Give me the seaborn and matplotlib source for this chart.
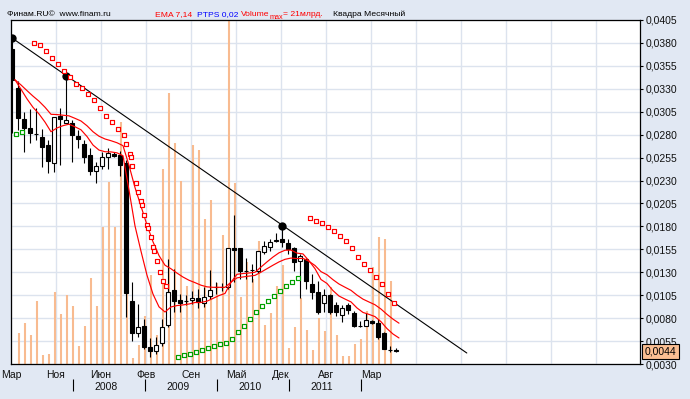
import numpy as np
import matplotlib
matplotlib.use("Agg")
import matplotlib.pyplot as plt
import matplotlib.transforms as mtransforms
from matplotlib.ticker import FuncFormatter
import seaborn as sns

# ---------------- data (monthly candles, Mar 2007 .. Jul 2012) ----------------
open_ = [0.03735, 0.03311, 0.02974, 0.02876, 0.02811, 0.02778, 0.02691, 0.02496, 0.03007, 0.02930,
         0.02930, 0.02789, 0.02702, 0.02583, 0.02409, 0.02463, 0.02561, 0.02594, 0.02583, 0.02496,
         0.00985, 0.00637, 0.00713, 0.00485, 0.00441, 0.00528, 0.00724, 0.01104, 0.00996, 0.00985,
         0.00996, 0.01017, 0.00963, 0.01039, 0.01137, 0.01137, 0.01137, 0.01561, 0.01561, 0.01311,
         0.01322, 0.01311, 0.01517, 0.01572, 0.01637, 0.01659, 0.01615, 0.01561, 0.01420, 0.01441,
         0.01170, 0.01083, 0.00963, 0.01050, 0.00941, 0.00833, 0.00941, 0.00854, 0.00713, 0.00713,
         0.00767, 0.00746, 0.00637, 0.00452, 0.00452]
high = [0.03854, 0.03387, 0.03050, 0.03083, 0.03093, 0.02865, 0.02746, 0.02996, 0.03093, 0.03441,
        0.02963, 0.02854, 0.02746, 0.02659, 0.02507, 0.02615, 0.02659, 0.02615, 0.02626, 0.02528,
        0.01191, 0.00952, 0.00789, 0.00583, 0.00594, 0.00789, 0.01441, 0.01333, 0.01061, 0.01050,
        0.01094, 0.01115, 0.01137, 0.01322, 0.01191, 0.01180, 0.01561, 0.01920, 0.01561, 0.01452,
        0.01387, 0.01528, 0.01637, 0.01659, 0.01724, 0.01800, 0.01659, 0.01572, 0.01496, 0.01452,
        0.01278, 0.01202, 0.01115, 0.01061, 0.00974, 0.00941, 0.00963, 0.00876, 0.00767, 0.00854,
        0.00778, 0.00789, 0.00648, 0.00496, 0.00474]
low = [0.02822, 0.02854, 0.02615, 0.02713, 0.02746, 0.02452, 0.02387, 0.02398, 0.02474, 0.02930,
       0.02507, 0.02659, 0.02496, 0.02365, 0.02278, 0.02430, 0.02430, 0.02561, 0.02344, 0.00811,
       0.00550, 0.00594, 0.00463, 0.00376, 0.00409, 0.00496, 0.00702, 0.00865, 0.00865, 0.00941,
       0.00952, 0.00909, 0.00920, 0.01007, 0.01061, 0.01094, 0.01115, 0.01191, 0.01224, 0.01224,
       0.01191, 0.01289, 0.01496, 0.01528, 0.01626, 0.01572, 0.01496, 0.01311, 0.01017, 0.01115,
       0.01007, 0.00844, 0.00865, 0.00844, 0.00822, 0.00757, 0.00844, 0.00702, 0.00702, 0.00713,
       0.00735, 0.00572, 0.00463, 0.00430, 0.00430]
close = [0.03398, 0.02985, 0.02876, 0.02822, 0.02811, 0.02670, 0.02517, 0.02996, 0.02974, 0.02963,
         0.02800, 0.02756, 0.02561, 0.02409, 0.02463, 0.02561, 0.02604, 0.02572, 0.02474, 0.01072,
         0.00637, 0.00702, 0.00485, 0.00441, 0.00507, 0.00702, 0.01083, 0.00985, 0.00963, 0.00985,
         0.01017, 0.00974, 0.01028, 0.01104, 0.01137, 0.01137, 0.01561, 0.01539, 0.01311, 0.01311,
         0.01322, 0.01528, 0.01583, 0.01626, 0.01648, 0.01626, 0.01550, 0.01409, 0.01474, 0.01202,
         0.01083, 0.00865, 0.01050, 0.00865, 0.00865, 0.00909, 0.00887, 0.00713, 0.00713, 0.00778,
         0.00746, 0.00594, 0.00463, 0.00452, 0.00440]
# volume, billions
volume = [0, 1.89, 2.50, 1.77, 3.85, 0.55, 0.61, 4.40, 3.05, 4.21,
          3.54, 1.10, 2.32, 5.25, 3.54, 8.36, 11.11, 8.36, 14.77, 12.4,
          0.37, 1.16, 2.93, 5.43, 1.77, 11.90, 16.54, 13.49, 11.17, 4.76,
          13.37, 13.06, 8.85, 10.01, 4.94, 7.88, 21.0, 11.05, 4.09, 6.23,
          5.19, 7.51, 2.38, 3.11, 4.76, 6.04, 0.98, 2.26, 4.03, 2.08,
          0.85, 2.81, 2.01, 4.70, 1.77, 0.49, 0.49, 1.22, 1.53, 3.24,
          5.92, 7.75, 7.63, 5.07, 0]
VOL_MAX = 21.0
ema7 = [0.03398, 0.03295, 0.03190, 0.03098, 0.03026, 0.02937, 0.02832, 0.02873, 0.02898, 0.02914,
        0.02886, 0.02853, 0.02780, 0.02687, 0.02632, 0.02614, 0.02612, 0.02602, 0.02570, 0.02196,
        0.01805, 0.01529, 0.01268, 0.01062, 0.00923, 0.00867, 0.00922, 0.00937, 0.00944, 0.00954,
        0.00970, 0.00971, 0.00985, 0.01015, 0.01046, 0.01069, 0.01191, 0.01278, 0.01286, 0.01292,
        0.01300, 0.01357, 0.01413, 0.01466, 0.01512, 0.01540, 0.01542, 0.01509, 0.01500, 0.01425,
        0.01339, 0.01221, 0.01178, 0.01100, 0.01041, 0.01008, 0.00977, 0.00911, 0.00862, 0.00841,
        0.00817, 0.00761, 0.00686, 0.00627, 0.00584]
ema14 = [0.03398, 0.03342, 0.03280, 0.03220, 0.03165, 0.03099, 0.03022, 0.03019, 0.03012, 0.03005,
         0.02978, 0.02949, 0.02897, 0.02832, 0.02783, 0.02753, 0.02734, 0.02712, 0.02680, 0.02466,
         0.02223, 0.02020, 0.01815, 0.01632, 0.01482, 0.01377, 0.01338, 0.01291, 0.01248, 0.01213,
         0.01187, 0.01159, 0.01141, 0.01136, 0.01136, 0.01136, 0.01192, 0.01239, 0.01249, 0.01258,
         0.01266, 0.01301, 0.01339, 0.01377, 0.01413, 0.01441, 0.01455, 0.01449, 0.01452, 0.01419,
         0.01374, 0.01307, 0.01273, 0.01219, 0.01172, 0.01137, 0.01103, 0.01051, 0.01007, 0.00976,
         0.00946, 0.00899, 0.00841, 0.00789, 0.00745]
# parabolic SAR (time in months from Mar 2007)
sar_below_t = [0.67, 1.67, 27.67, 28.67, 29.67, 30.67, 31.67, 32.67, 33.67, 34.67, 35.67, 36.67,
               37.67, 38.67, 39.67, 40.67, 41.67, 42.67, 43.67, 44.67, 45.67, 46.67, 47.67]
sar_below_p = [0.02811, 0.02833, 0.00376, 0.00398, 0.00409, 0.00430, 0.00452, 0.00474, 0.00496,
               0.00517, 0.00528, 0.00572, 0.00648, 0.00713, 0.00789, 0.00865, 0.00930, 0.00985,
               0.01039, 0.01094, 0.01148, 0.01191, 0.01235]
sar_above_t = [3.67, 4.67, 5.67, 6.67, 7.67, 8.67, 9.67, 10.67, 11.67, 12.67, 13.67, 14.67, 15.67,
               16.67, 17.67, 18.67, 19.0, 19.67, 19.83, 20.0, 20.67, 21.0, 21.5, 21.67, 22.0, 22.5,
               22.67, 23.17, 23.5, 23.67, 24.17, 24.67, 25.17, 25.67,
               49.67, 50.67, 51.67, 52.67, 53.67, 54.67, 55.67, 56.67, 57.67, 58.67, 59.67, 60.67,
               61.67, 62.67, 63.67]
sar_above_p = [0.03800, 0.03778, 0.03713, 0.03637, 0.03572, 0.03496, 0.03430, 0.03354, 0.03311,
               0.03246, 0.03180, 0.03093, 0.03007, 0.02941, 0.02865, 0.02800, 0.02702, 0.02594,
               0.02561, 0.02463, 0.02278, 0.02180, 0.02072, 0.02028, 0.01920, 0.01811, 0.01778,
               0.01680, 0.01572, 0.01528, 0.01420, 0.01300, 0.01202, 0.01148,
               0.01887, 0.01854, 0.01833, 0.01789, 0.01746, 0.01691, 0.01637, 0.01561, 0.01463,
               0.01387, 0.01322, 0.01246, 0.01170, 0.01061, 0.00963]
# trend line and its touch points
trend_t = [0, 75.8]
trend_p = [0.03854, 0.00420]
touch_idx = [0, 9, 45]
# axis labels
month_labels = ["Мар", "Ноя", "Июн", "Фев", "Сен", "Май", "Дек", "Авг", "Мар"]
year_labels = ["2008", "2009", "2010", "2011"]
year_start_t = [10, 22, 34, 46, 58]
price_ticks = [0.0030, 0.0055, 0.0080, 0.0105, 0.0130, 0.0155, 0.0180, 0.0205,
               0.0230, 0.0255, 0.0280, 0.0305, 0.0330, 0.0355, 0.0380, 0.0405]
last_label = "0,0044"

# ---------------- styling ----------------
sns.set_theme(style="white")
plt.rcParams['font.family'] = ['Liberation Sans', 'DejaVu Sans']

BG = '#E1E8F3'
GRID = '#DCE3EE'
ORANGE = '#F8BB90'
BOX = '#FBBF93'

t = np.arange(len(close))
o = np.array(open_); h = np.array(high); l = np.array(low); c = np.array(close)

fig = plt.figure(figsize=(6.9, 3.99), dpi=100)
fig.patch.set_facecolor(BG)
rect = [11/690, 35/399, 629/690, 344/399]
ax_bg = fig.add_axes(rect, zorder=0)
ax_vol = fig.add_axes(rect, zorder=1)
ax = fig.add_axes(rect, zorder=2)

XMIN, XMAX = -1/6, 104.67
YMIN, YMAX = 0.0030, 0.0405
grid_t = np.arange(XMIN, XMAX + 0.01, 7.5)

# background + grid
ax_bg.set_facecolor('white')
ax_bg.set_xlim(XMIN, XMAX); ax_bg.set_ylim(YMIN, YMAX)
ax_bg.set_xticks(grid_t); ax_bg.set_yticks(price_ticks)
ax_bg.grid(True, color=GRID, linewidth=1.0)
ax_bg.tick_params(length=0, labelbottom=False, labelleft=False)
for s in ax_bg.spines.values():
    s.set_visible(False)

# volume
ax_vol.patch.set_visible(False)
ax_vol.vlines(t + 1/6, 0, volume, colors=ORANGE, linewidth=1.5)
ax_vol.set_xlim(XMIN, XMAX); ax_vol.set_ylim(0, VOL_MAX)
ax_vol.set_axis_off()

# price axes
ax.patch.set_visible(False)
ax.vlines(t, l, h, colors='black', linewidth=0.8, zorder=3)
up = c >= o
face = np.where(up, 'white', 'black')
ax.bar(t, np.abs(c - o), bottom=np.minimum(o, c), width=0.8, color=face,
       edgecolor='black', linewidth=0.8, zorder=4)

sns.lineplot(x=t + 0.5, y=ema14, ax=ax, color='#FF0000', linewidth=0.85,
             estimator=None, sort=False, legend=False, zorder=5)
sns.lineplot(x=t + 0.5, y=ema7, ax=ax, color='#FF0000', linewidth=0.85,
             estimator=None, sort=False, legend=False, zorder=5)

sns.lineplot(x=trend_t, y=trend_p, ax=ax, color='black', linewidth=0.8,
             estimator=None, sort=False, legend=False, zorder=6)
sns.scatterplot(x=t[touch_idx], y=h[touch_idx], ax=ax, color='black', s=36,
                edgecolor='black', linewidth=0, legend=False, zorder=7)

sns.scatterplot(x=sar_above_t, y=sar_above_p, ax=ax, marker='s', s=5, color='white',
                edgecolor='#FF0000', linewidth=0.85, legend=False, zorder=8)
sns.scatterplot(x=sar_below_t, y=sar_below_p, ax=ax, marker='s', s=5, color='white',
                edgecolor='#00A000', linewidth=0.85, legend=False, zorder=8)

ax.set_xlim(XMIN, XMAX); ax.set_ylim(YMIN, YMAX)
ax.grid(False)
ax.set_xlabel(''); ax.set_ylabel('')
ax.set_xticks(grid_t)
ax.set_xticklabels(month_labels + [''] * (len(grid_t) - len(month_labels)))
ax.tick_params(axis='x', length=0, pad=4.2, labelsize=7.5, labelcolor='#111111')
ax.yaxis.tick_right()
ax.set_yticks(price_ticks)
ax.yaxis.set_major_formatter(FuncFormatter(lambda v, _: f"{v:.4f}".replace('.', ',')))
ax.tick_params(axis='y', direction='out', length=2.5, width=0.8, pad=1.5,
               labelsize=7.5, color='black', labelcolor='#111111')
for s in ax.spines.values():
    s.set_visible(True); s.set_color('black'); s.set_linewidth(0.9)

# year separators and labels
trans = mtransforms.blended_transform_factory(ax.transData, ax.transAxes)
ax.vlines(np.array(year_start_t) + 0.15, -0.078, -0.044, colors='black', linewidth=0.8,
          transform=trans, clip_on=False)
for k, lab in enumerate(year_labels):
    mid = (year_start_t[k] + year_start_t[k + 1]) / 2 - 0.4
    ax.text(mid, -0.066, lab, transform=trans, ha='center', va='center',
            fontsize=7.5, color='#111111', clip_on=False)

# last price box
trans_y = mtransforms.blended_transform_factory(ax.transAxes, ax.transData)
ax.text(1.0 + 4.5/629, close[-1], last_label, transform=trans_y, ha='left', va='center',
        fontsize=7.5, color='black', clip_on=False, zorder=20,
        bbox=dict(boxstyle='square,pad=0.25', fc=BOX, ec='black', lw=0.8))

# header
HF = 6.1
yb = 1 - 15.6/399
fig.text(7/690, yb, "Финам.RU©  www.finam.ru", fontsize=HF, color='black', va='baseline')
fig.text(155/690, yb, "EMA 7,14", fontsize=HF, color='#FF0000', va='baseline')
fig.text(197/690, yb, "PTPS 0,02", fontsize=HF, color='#0000FF', va='baseline')
fig.text(241/690, yb, "Volume", fontsize=HF, color='#FF0000', va='baseline')
fig.text(270/690, 1 - 18.8/399, "max", fontsize=5.2, color='#FF0000', va='baseline')
fig.text(283/690, yb, "= 21млрд.", fontsize=HF, color='#FF0000', va='baseline')
fig.text(333/690, yb, "Квадра Месячный", fontsize=HF, color='black', va='baseline')

fig.savefig("out.png", dpi=100, facecolor=BG)
